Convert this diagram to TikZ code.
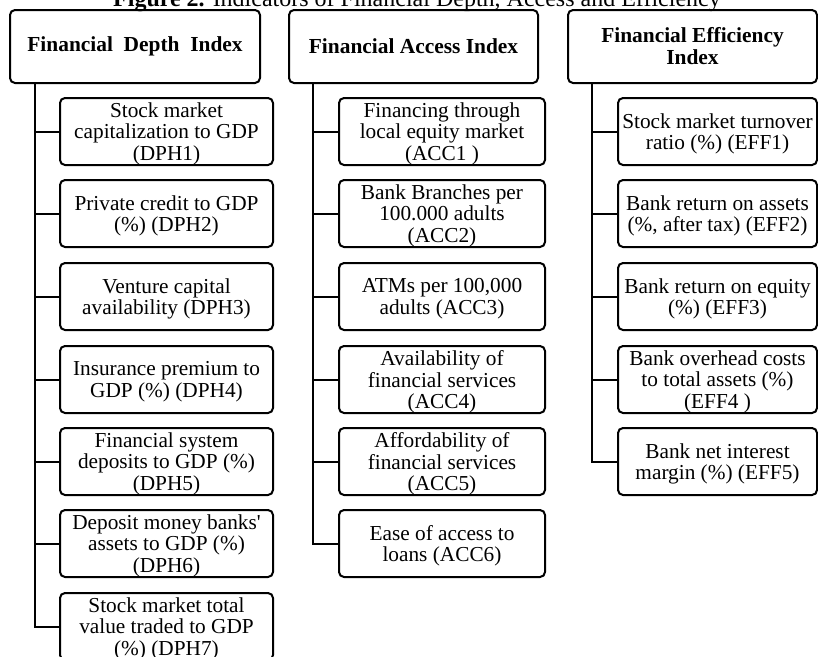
\documentclass[tikz,border=0pt]{standalone}
\usepackage{fontspec}
\setmainfont{Liberation Serif}[Ligatures=TeXOff]
\begin{document}
\begin{tikzpicture}[x=1pt,y=-1pt,
  box/.style={draw, line width=2pt, rounded corners=5pt, align=center, inner sep=0pt,
    font=\fontsize{21.3}{21.7}\selectfont},
  head/.style={box, minimum height=73pt, font=\fontsize{21.4}{22}\selectfont\bfseries},
  child/.style={box, minimum height=67pt, text depth=-1.5pt},
  ca/.style={child, minimum width=213pt},
  cb/.style={child, minimum width=206pt},
  cc/.style={child, minimum width=199pt},
  link/.style={line width=2pt}]
\useasboundingbox (0,0) rectangle (818,656);

\node[anchor=base, font=\fontsize{24}{28}\selectfont] (title) at (417,6)
  {\textbf{Figure 2.} Indicators of Financial Depth, Access and Efficiency};

\node[head, minimum width=250pt] (h1) at (135,46.5) {Financial~ Depth~ Index};
\node[head, minimum width=249pt] (h2) at (413.5,46.5) {Financial Access Index};
\node[head, minimum width=249pt] (h3) at (692.5,46.5) {Financial Efficiency\\Index};

\node[ca] (a1) at (166.5,131.5) {Stock market\\capitalization to GDP\\(DPH1)};
\node[ca] (a2) at (166.5,213.5) {Private credit to GDP\\(\%) (DPH2)};
\node[ca] (a3) at (166.5,296.5) {Venture capital\\availability (DPH3)};
\node[ca] (a4) at (166.5,379.5) {Insurance premium to\\GDP (\%) (DPH4)};
\node[ca] (a5) at (166.5,461.5) {Financial system\\deposits to GDP (\%)\\(DPH5)};
\node[ca] (a6) at (166.5,543.5) {Deposit money banks'\\assets to GDP (\%)\\(DPH6)};
\node[ca] (a7) at (166.5,626.5) {Stock market total\\value traded to GDP\\(\%) (DPH7)};

\node[cb] (b1) at (442,131.5) {Financing through\\local equity market\\(ACC1 )};
\node[cb] (b2) at (442,213.5) {Bank Branches per\\100.000 adults\\(ACC2)};
\node[cb] (b3) at (442,296.5) {ATMs per 100,000\\adults (ACC3)};
\node[cb] (b4) at (442,379.5) {Availability of\\financial services\\(ACC4)};
\node[cb] (b5) at (442,461.5) {Affordability of\\financial services\\(ACC5)};
\node[cb] (b6) at (442,543.5) {Ease of access to\\loans (ACC6)};

\node[cc] (e1) at (717.5,131.5) {Stock market turnover\\ratio (\%) (EFF1)};
\node[cc] (e2) at (717.5,213.5) {Bank return on assets\\(\%, after tax) (EFF2)};
\node[cc] (e3) at (717.5,296.5) {Bank return on equity\\(\%) (EFF3)};
\node[cc] (e4) at (717.5,379.5) {Bank overhead costs\\to total assets (\%)\\(EFF4 )};
\node[cc] (e5) at (717.5,461.5) {Bank net interest\\margin (\%) (EFF5)};

\coordinate (t1) at ([xshift=26pt]h1.south west);
\coordinate (t2) at ([xshift=25pt]h2.south west);
\coordinate (t3) at ([xshift=25pt]h3.south west);

\draw[link] (t1) |- (a7.west);
\foreach \i in {1,...,6} \draw[link] (t1 |- a\i.west) -- (a\i.west);
\draw[link] (t2) |- (b6.west);
\foreach \i in {1,...,5} \draw[link] (t2 |- b\i.west) -- (b\i.west);
\draw[link] (t3) |- (e5.west);
\foreach \i in {1,...,4} \draw[link] (t3 |- e\i.west) -- (e\i.west);
\end{tikzpicture}
\end{document}
